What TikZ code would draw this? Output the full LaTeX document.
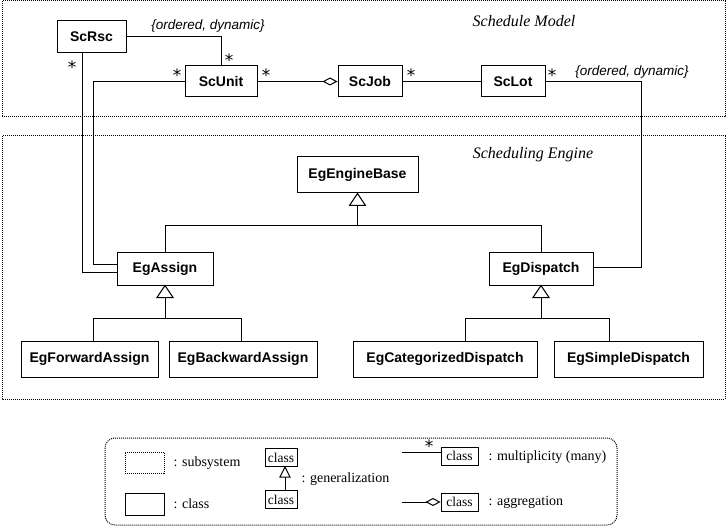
\documentclass[tikz,border=0pt]{standalone}
\usepackage{fontspec}
\setmainfont{Liberation Serif}
\setsansfont{Liberation Sans}
\newfontfamily\starfont{DejaVu Sans}
\usetikzlibrary{arrows.meta,calc}
\begin{document}
\begin{tikzpicture}[x=1pt,y=-1pt, line width=1pt,
  cls/.style={draw, line width=1pt, font=\sffamily\bfseries\fontsize{14}{16}\selectfont, inner sep=0pt, minimum height=32pt, fill=white},
  subsys/.style={line width=1pt, dash pattern=on 1pt off 1pt},
  mult/.style={font=\starfont\fontsize{17}{17}\selectfont, inner sep=0pt},
  constr/.style={font=\sffamily\itshape\fontsize{13.5}{14}\selectfont, inner sep=0pt},
  title/.style={font=\itshape\fontsize{16}{18}\selectfont, inner sep=0pt},
  lgtext/.style={font=\fontsize{14}{15}\selectfont, inner sep=0pt, anchor=west},
  lgcls/.style={draw, line width=1pt, font=\fontsize{13.5}{14}\selectfont, inner sep=0pt, minimum width=32pt, minimum height=18pt},
  agg/.style={-{Diamond[open,length=15pt,width=8pt]}},
]
\fill[white] (0,0) rectangle (727,526);
\useasboundingbox (0,0) rectangle (727,526);

% subsystems
\draw[subsys] (2,1) rectangle (725,117);
\draw[subsys] (2,136) rectangle (725,399);
\node[title] (tSM) at (524,21) {Schedule Model};
\node[title] (tSE) at (533,155) {Scheduling Engine};

% classes
\node[cls, minimum width=69pt] (ScRsc) at (91.5,37) {ScRsc};
\node[cls, minimum width=72pt, minimum height=31pt] (ScUnit) at (221,81.5) {ScUnit};
\node[cls, minimum width=64pt, minimum height=31pt] (ScJob) at (370,81.5) {ScJob};
\node[cls, minimum width=64pt, minimum height=31pt] (ScLot) at (513,81.5) {ScLot};
\node[cls, minimum width=121pt, minimum height=36pt] (EgEngineBase) at (357.5,175) {EgEngineBase};
\node[cls, minimum width=96pt] (EgAssign) at (165,269) {EgAssign};
\node[cls, minimum width=104pt] (EgDispatch) at (541,269) {EgDispatch};
\node[cls, minimum width=137pt, minimum height=36pt] (EgForwardAssign) at (89.5,359) {EgForwardAssign};
\node[cls, minimum width=148pt, minimum height=36pt] (EgBackwardAssign) at (243,359) {EgBackwardAssign};
\node[cls, minimum width=184pt, minimum height=36pt] (EgCategorizedDispatch) at (445,359) {EgCategorizedDispatch};
\node[cls, minimum width=149pt, minimum height=36pt] (EgSimpleDispatch) at (628.5,359) {EgSimpleDispatch};

% associations
\draw (ScRsc.east) -| (ScUnit.north);
\coordinate (v1) at (82,273);
\draw (ScRsc.south -| v1) |- (EgAssign.west |- v1);
\coordinate (v2) at (93,265);
\draw (ScUnit.west) -| (v2) -- (EgAssign.west |- v2);
\draw[agg] (ScUnit.east) -- (ScJob.west);
\draw (ScJob.east) -- (ScLot.west);
\coordinate (v3) at (641,268);
\draw (ScLot.east) -| (v3) -- (EgDispatch.east |- v3);

% multiplicities
\node[mult] (m1) at (72,67.5) {*};
\node[mult] (m2) at (229,60.5) {*};
\node[mult] (m3) at (177,75.5) {*};
\node[mult] (m4) at (266,75.5) {*};
\node[mult] (m5) at (411,75.5) {*};
\node[mult] (m6) at (552,75.5) {*};
\node[constr] (c1) at (208,26) {\{ordered, dynamic\}};
\node[constr] (c2) at (632,72) {\{ordered, dynamic\}};

% generalization: engine base
\draw[fill=white] (EgEngineBase.south) -- ++(-8,12) -- ++(16,0) -- cycle;
\coordinate (h1) at (0,226);
\draw ($(EgEngineBase.south)+(0,12)$) -- (EgEngineBase.south |- h1) -| (EgAssign.north);
\draw (EgEngineBase.south |- h1) -| (EgDispatch.north);

% generalization: assign
\draw[fill=white] (EgAssign.south) -- ++(-8,12) -- ++(16,0) -- cycle;
\coordinate (h2) at (0,318);
\coordinate (fa) at (93,0);
\coordinate (ba) at (241,0);
\draw ($(EgAssign.south)+(0,12)$) -- (EgAssign.south |- h2);
\draw (fa |- EgForwardAssign.north) |- (ba |- h2) -- (ba |- EgBackwardAssign.north);

% generalization: dispatch
\draw[fill=white] (EgDispatch.south) -- ++(-8,12) -- ++(16,0) -- cycle;
\coordinate (cd) at (465,0);
\coordinate (sd) at (609,0);
\draw ($(EgDispatch.south)+(0,12)$) -- (EgDispatch.south |- h2);
\draw (cd |- EgCategorizedDispatch.north) |- (sd |- h2) -- (sd |- EgSimpleDispatch.north);

% legend
\draw[subsys, rounded corners=10pt] (105,438) rectangle (617,525);
\node[draw, subsys, minimum width=39pt, minimum height=21pt, inner sep=0pt] (lgSub) at (144.5,462.5) {};
\node[lgtext] (lgSubT) at (173,463) {: subsystem};
\node[draw, minimum width=39pt, minimum height=22pt, inner sep=0pt] (lgCls) at (144.5,504) {};
\node[lgtext] (lgClsT) at (173,504) {: class};
\node[lgcls] (lgG1) at (281,457.5) {class};
\node[lgcls] (lgG2) at (281,499.5) {class};
\coordinate (gx) at (285,0);
\draw[fill=white] (gx |- lgG1.south) -- ++(-5,10) -- ++(10,0) -- cycle;
\draw ($(gx |- lgG1.south)+(0,10)$) -- (gx |- lgG2.north);
\node[lgtext] (lgGT) at (301,479) {: generalization};
\node[lgcls, minimum width=37pt] (lgM) at (459.5,456) {class};
\coordinate (lm0) at (402,452);
\draw (lm0) -- (lgM.west |- lm0);
\node[mult] (lgStar) at (429,446.5) {*};
\node[lgtext] (lgMT) at (488,457) {: multiplicity (many)};
\node[lgcls, minimum width=37pt] (lgA) at (459.5,502) {class};
\coordinate (la0) at (402,502);
\draw[agg] (la0) -- (lgA.west);
\node[lgtext] (lgAT) at (488,502) {: aggregation};
\end{tikzpicture}
\end{document}
